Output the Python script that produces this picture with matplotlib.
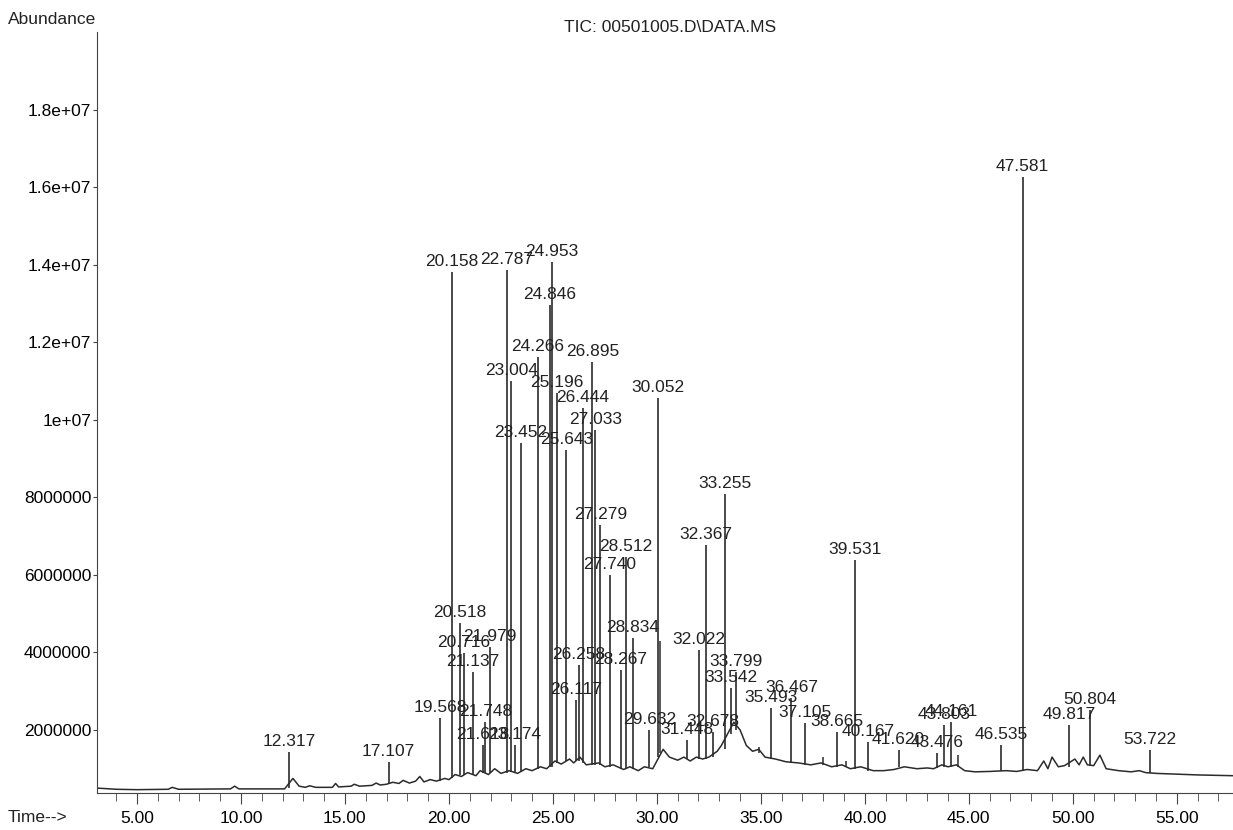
import numpy as np
import matplotlib
matplotlib.use("Agg")
import matplotlib.pyplot as plt
from matplotlib.ticker import MultipleLocator

plt.rcParams["font.family"] = ["Liberation Sans", "DejaVu Sans"]

# labelled peaks: retention time (min), apex and foot abundance
peak_rt = [12.317, 17.107, 19.568, 20.158, 20.518, 20.716, 21.137, 21.618, 21.748,
           21.979, 22.787, 23.004, 23.174, 23.452, 24.266, 24.846, 24.953, 25.196,
           25.643, 26.117, 26.258, 26.444, 26.895, 27.033, 27.279, 27.740, 28.267,
           28.512, 28.834, 29.632, 30.052, 31.448, 32.022, 32.367, 32.678, 33.255,
           33.542, 33.799, 35.493, 36.467, 37.105, 38.665, 39.531, 40.167, 41.620,
           43.476, 43.803, 44.161, 46.535, 47.581, 49.817, 50.804, 53.722]
peak_top = [1.43e6, 1.17e6, 2.31e6, 13.82e6, 4.76e6, 3.99e6, 3.50e6, 1.61e6, 2.21e6,
            4.14e6, 13.87e6, 11.0e6, 1.61e6, 9.41e6, 11.63e6, 12.97e6, 14.08e6, 10.70e6,
            9.23e6, 2.77e6, 3.68e6, 10.31e6, 11.50e6, 9.74e6, 7.29e6, 6.0e6, 3.55e6,
            6.46e6, 4.37e6, 2.0e6, 10.57e6, 1.74e6, 4.06e6, 6.77e6, 1.95e6, 8.09e6,
            3.08e6, 3.50e6, 2.57e6, 2.83e6, 2.18e6, 1.95e6, 6.39e6, 1.69e6, 1.48e6,
            1.41e6, 2.13e6, 2.21e6, 1.61e6, 16.27e6, 2.13e6, 2.52e6, 1.48e6]
peak_foot = [0.50e6, 0.62e6, 0.68e6, 0.75e6, 0.85e6, 0.85e6, 0.85e6, 0.88e6, 0.90e6,
             0.90e6, 0.90e6, 0.92e6, 0.92e6, 0.92e6, 1.0e6, 1.05e6, 1.05e6, 1.15e6,
             1.2e6, 1.2e6, 1.2e6, 1.15e6, 1.1e6, 1.1e6, 1.1e6, 1.05e6, 1.0e6,
             1.0e6, 1.0e6, 1.05e6, 1.3e6, 1.25e6, 1.25e6, 1.25e6, 1.3e6, 1.5e6,
             1.9e6, 2.0e6, 1.25e6, 1.15e6, 1.1e6, 1.05e6, 1.0e6, 0.95e6, 1.05e6,
             1.02e6, 1.05e6, 1.05e6, 0.93e6, 0.95e6, 1.05e6, 1.1e6, 0.9e6]

# unlabelled peaks
minor_rt = [30.15, 34.9, 38.0, 39.1, 44.5]
minor_top = [4.3e6, 1.56e6, 1.3e6, 1.2e6, 1.35e6]
minor_foot = [1.4e6, 1.4e6, 1.1e6, 1.05e6, 1.05e6]

# baseline trace
base_t = [3.1, 4.0, 5.0, 6.5, 6.7, 7.0, 9.5, 9.7, 9.9, 12.1, 12.5, 12.8, 13.1, 13.3,
          13.6, 14.4, 14.55, 14.7, 15.3, 15.45, 15.7, 16.3, 16.5, 16.7, 17.0, 17.3,
          17.6, 17.8, 18.1, 18.4, 18.6, 18.8, 19.1, 19.4, 19.8, 20.0, 20.3, 20.6,
          20.9, 21.3, 21.5, 21.9, 22.2, 22.5, 22.9, 23.3, 23.7, 24.0, 24.4, 24.7,
          25.1, 25.4, 25.8, 26.0, 26.3, 26.6, 27.2, 27.5, 27.9, 28.4, 28.7, 29.1,
          29.4, 29.8, 30.3, 30.6, 31.0, 31.3, 31.6, 31.9, 32.2, 32.5, 32.9, 33.1,
          33.4, 33.7, 34.0, 34.3, 34.6, 34.9, 35.2, 35.7, 36.2, 36.8, 37.4, 37.9,
          38.4, 38.9, 39.3, 39.8, 40.4, 40.9, 41.4, 41.9, 42.5, 43.0, 43.3, 43.7,
          44.0, 44.4, 44.8, 45.3, 46.0, 46.8, 47.3, 47.8, 48.3, 48.6, 48.8, 49.0,
          49.3, 49.6, 50.1, 50.3, 50.5, 50.7, 51.0, 51.3, 51.6, 52.2, 52.8, 53.2,
          53.5, 54.0, 55.0, 56.0, 57.7]
base_v = [0.50e6, 0.47e6, 0.46e6, 0.47e6, 0.52e6, 0.47e6, 0.48e6, 0.55e6, 0.48e6,
          0.48e6, 0.75e6, 0.55e6, 0.52e6, 0.56e6, 0.52e6, 0.52e6, 0.62e6, 0.53e6,
          0.55e6, 0.60e6, 0.55e6, 0.57e6, 0.63e6, 0.58e6, 0.60e6, 0.65e6, 0.62e6,
          0.70e6, 0.63e6, 0.68e6, 0.80e6, 0.66e6, 0.72e6, 0.68e6, 0.75e6, 0.72e6,
          0.85e6, 0.80e6, 0.90e6, 0.82e6, 0.95e6, 0.85e6, 1.0e6, 0.88e6, 0.95e6,
          0.88e6, 1.0e6, 0.95e6, 1.05e6, 1.0e6, 1.2e6, 1.12e6, 1.25e6, 1.15e6,
          1.3e6, 1.1e6, 1.15e6, 1.05e6, 1.1e6, 0.98e6, 1.05e6, 0.95e6, 1.05e6,
          1.0e6, 1.5e6, 1.3e6, 1.22e6, 1.3e6, 1.2e6, 1.3e6, 1.25e6, 1.3e6, 1.45e6,
          1.6e6, 1.9e6, 2.2e6, 2.0e6, 1.6e6, 1.45e6, 1.5e6, 1.3e6, 1.25e6, 1.18e6,
          1.15e6, 1.1e6, 1.15e6, 1.05e6, 1.1e6, 1.0e6, 1.05e6, 0.95e6, 0.95e6,
          0.98e6, 1.05e6, 1.0e6, 1.02e6, 1.0e6, 1.1e6, 1.05e6, 1.1e6, 0.95e6,
          0.92e6, 0.93e6, 0.95e6, 0.93e6, 0.98e6, 0.95e6, 1.2e6, 1.0e6, 1.3e6,
          1.05e6, 1.08e6, 1.25e6, 1.1e6, 1.3e6, 1.1e6, 1.08e6, 1.35e6, 1.0e6,
          0.95e6, 0.92e6, 0.95e6, 0.9e6, 0.88e6, 0.86e6, 0.84e6, 0.82e6]

x_ticks = [5, 10, 15, 20, 25, 30, 35, 40, 45, 50, 55]
y_ticks = [2e6, 4e6, 6e6, 8e6, 1e7, 1.2e7, 1.4e7, 1.6e7, 1.8e7]
y_tick_labels = ["2000000", "4000000", "6000000", "8000000", "1e+07",
                 "1.2e+07", "1.4e+07", "1.6e+07", "1.8e+07"]

W, H = 1233, 830
fig = plt.figure(figsize=(W / 100, H / 100), dpi=100)
ax = fig.add_axes([97 / W, 37 / H, (W - 97) / W, (793 - 32) / H])

col = "#2b2b2b"
ax.plot(base_t, base_v, color=col, lw=1.1)
ax.vlines(peak_rt, peak_foot, peak_top, color=col, lw=1.2)
ax.vlines(minor_rt, minor_foot, minor_top, color=col, lw=1.1)

for rt, top in zip(peak_rt, peak_top):
    ax.annotate("{:.3f}".format(rt), (rt, top), xytext=(0, 2),
                textcoords="offset points", ha="center", va="bottom",
                fontsize=12.5, color="#222222")

ax.set_xlim(3.08, 57.7)
ax.set_ylim(0.374e6, 2.0e7)

ax.spines["top"].set_visible(False)
ax.spines["right"].set_visible(False)
ax.spines["left"].set_color("#444444")
ax.spines["bottom"].set_color("#444444")

ax.set_xticks(x_ticks)
ax.set_xticklabels(["{:.2f}".format(v) for v in x_ticks])
ax.xaxis.set_minor_locator(MultipleLocator(1))
ax.tick_params(axis="x", which="major", length=8, pad=5, labelsize=12.5, color="#444444")
ax.tick_params(axis="x", which="minor", length=6, color="#444444")
ax.set_yticks(y_ticks)
ax.set_yticklabels(y_tick_labels)
ax.tick_params(axis="y", length=3, pad=1, labelsize=12.5, color="#444444")

fig.text(670 / W, 1 - 27 / H, "TIC: 00501005.D\\DATA.MS", ha="center", va="center",
         fontsize=12.5, color="#222222")
fig.text(8 / W, 1 - 20 / H, "Abundance", ha="left", va="center", fontsize=12.5,
         color="#222222")
fig.text(8 / W, 1 - 817 / H, "Time-->", ha="left", va="center", fontsize=12.5,
         color="#222222")

fig.savefig("out.png", dpi=100)
